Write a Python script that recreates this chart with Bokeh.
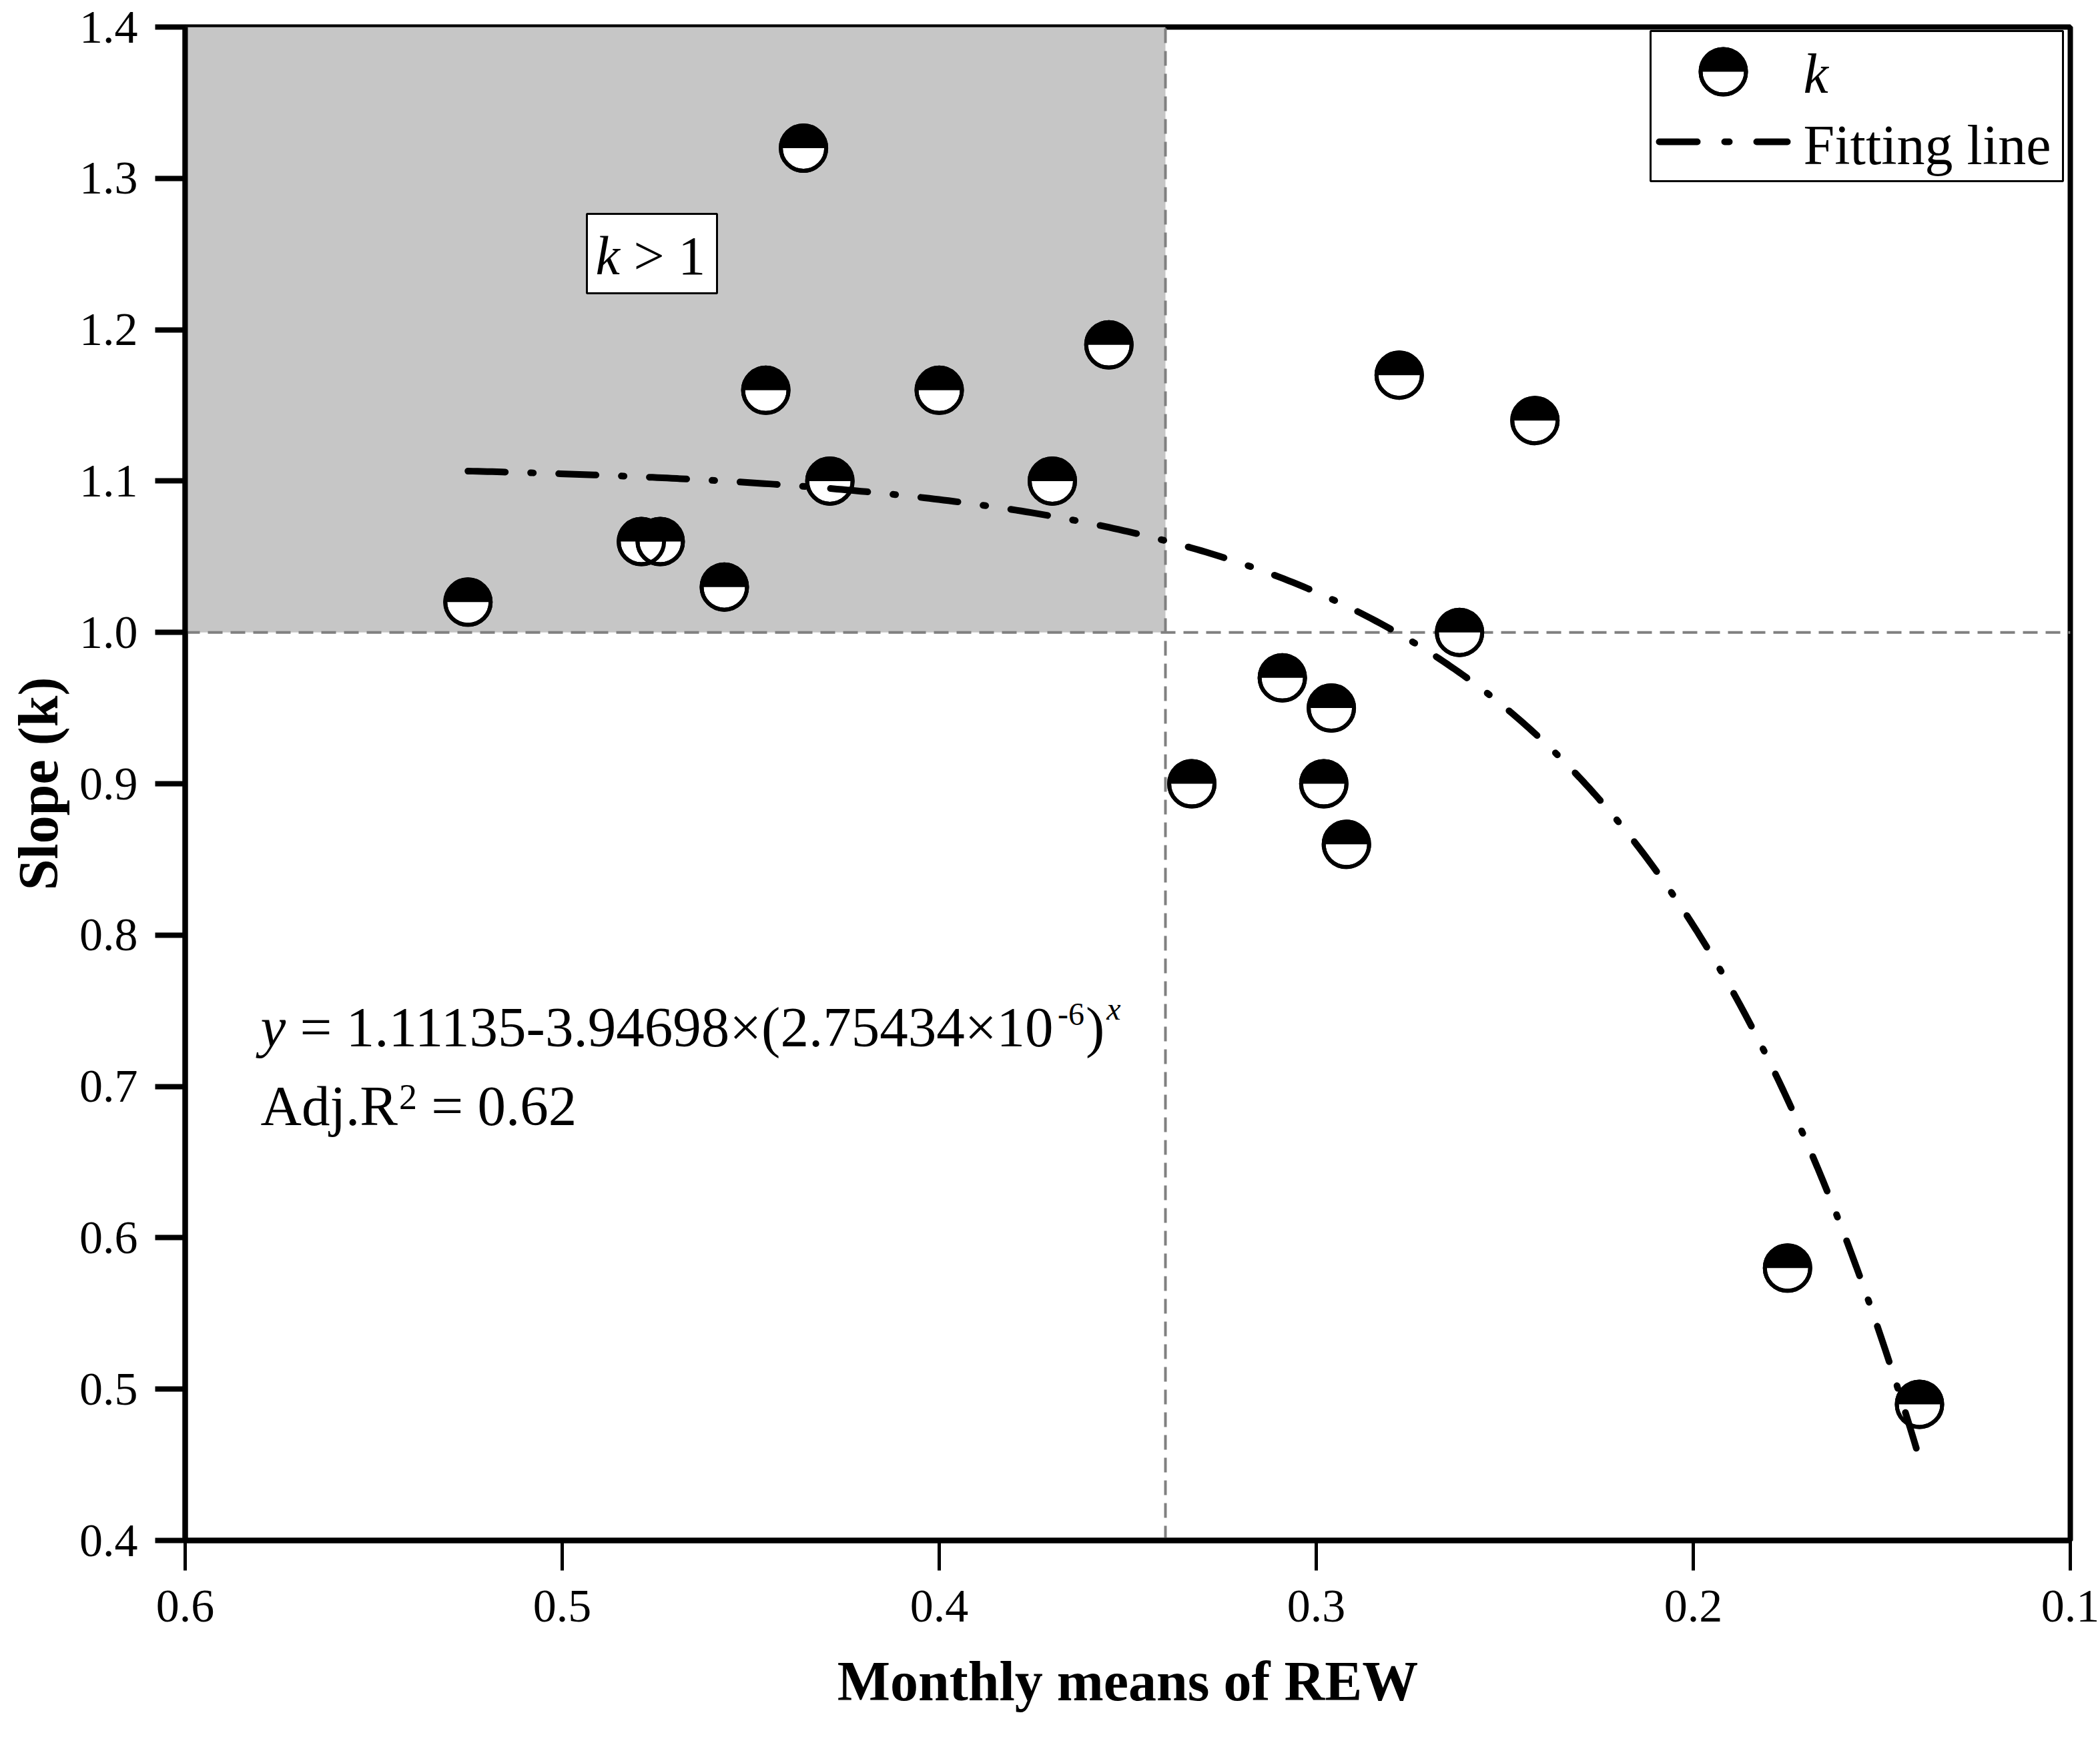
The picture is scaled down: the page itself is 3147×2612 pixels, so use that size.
import numpy as np
from bokeh.plotting import figure
from bokeh.models import Range1d, FixedTicker, PrintfTickFormatter, Label, ColumnDataSource
from bokeh.embed import file_html
from bokeh.resources import INLINE

# ---------------- data ----------------
rew = [0.525, 0.479, 0.474, 0.457, 0.446, 0.436, 0.429, 0.400, 0.370, 0.355,
       0.333, 0.309, 0.298, 0.296, 0.292, 0.278, 0.262, 0.242, 0.175, 0.140]
slope_k = [1.02, 1.06, 1.06, 1.03, 1.16, 1.32, 1.10, 1.16, 1.10, 1.19,
           0.90, 0.97, 0.90, 0.95, 0.86, 1.17, 1.00, 1.14, 0.58, 0.49]

# fitted model shown on the chart: y = A - B * C**x
FIT_A = 1.11135
FIT_B = 3.94698
FIT_C = 2.75434e-6

x_ticks = [0.6, 0.5, 0.4, 0.3, 0.2, 0.1]
y_ticks = [0.4, 0.5, 0.6, 0.7, 0.8, 0.9, 1.0, 1.1, 1.2, 1.3, 1.4]
X_START, X_END = 0.6, 0.1
Y_BOTTOM, Y_TOP = 0.4, 1.4
REW_THRESHOLD = 0.34
K_THRESHOLD = 1.0

eq_main = "= 1.11135-3.94698\u00d7(2.75434\u00d710"
eq_exp = "-6"
r2_text = "= 0.62"

# ---------------- layout ----------------
W, H = 3147, 2612
BL, BR, BT, BB = 277, 45, 40, 304
FW = W - BL - BR
FH = H - BT - BB
FONT = "Liberation Serif"
BASE = 0.30  # baseline correction (em)

def dx(page_x):
    return X_START + (X_END - X_START) * (page_x - BL) / FW

def dy(page_y):
    return Y_TOP - (Y_TOP - Y_BOTTOM) * (page_y - BT) / FH

# Times-like advance widths (em)
REG = {**{d: 0.5 for d in "0123456789"}, ".": 0.25, " ": 0.25, "=": 0.564, "-": 0.333,
       "\u00d7": 0.564, "(": 0.333, ")": 0.333, "A": 0.722, "d": 0.5, "j": 0.278,
       "R": 0.667, ">": 0.564}
ITA = {"y": 0.444, "x": 0.444, "k": 0.444}

def tw(s, size, table=REG):
    return sum(table.get(c, 0.5) for c in s) * size

p = figure(width=W, height=H, output_backend="svg", toolbar_location=None,
           x_range=Range1d(X_START, X_END), y_range=Range1d(Y_BOTTOM, Y_TOP),
           min_border_left=BL, min_border_right=BR, min_border_top=BT, min_border_bottom=BB,
           background_fill_color="white", border_fill_color="white")

def text(x, y, s, size, italic=False, xo=0.0, yo=0.0):
    p.add_layout(Label(x=x, y=y, x_offset=xo, y_offset=yo + BASE * size, text=s,
                       text_font=FONT, text_font_size=f"{size}px",
                       text_font_style="italic" if italic else "normal",
                       text_baseline="alphabetic", text_align="left", text_color="black"))

p.xgrid.visible = False
p.ygrid.visible = False
p.outline_line_color = "black"
p.outline_line_width = 8
p.outline_line_alpha = 1.0

p.xaxis.ticker = FixedTicker(ticks=x_ticks)
p.yaxis.ticker = FixedTicker(ticks=y_ticks)
p.xaxis.formatter = PrintfTickFormatter(format="%.1f")
p.yaxis.formatter = PrintfTickFormatter(format="%.1f")
for ax in (p.xaxis[0], p.yaxis[0]):
    ax.axis_line_width = 8
    ax.axis_line_color = "black"
    ax.major_tick_in = 0
    ax.major_tick_out = 45
    ax.major_tick_line_color = "black"
    ax.minor_tick_line_color = None
    ax.major_label_text_font = FONT
    ax.major_label_text_font_size = "70px"
    ax.major_label_text_color = "black"
    ax.axis_label_text_font = FONT
    ax.axis_label_text_font_size = "84px"
    ax.axis_label_text_font_style = "bold"
    ax.axis_label_text_color = "black"
p.xaxis.major_tick_line_width = 5
p.yaxis.major_tick_line_width = 8
p.xaxis.major_label_standoff = 30
p.yaxis.major_label_standoff = 26
p.xaxis.axis_label_standoff = 40
p.yaxis.axis_label_standoff = 12
p.xaxis.axis_label = "Monthly means of REW"
p.yaxis.axis_label = "Slope (k)"

# shaded region k > 1 and REW > threshold
p.quad(left=[X_START], right=[REW_THRESHOLD], bottom=[K_THRESHOLD], top=[Y_TOP],
       fill_color="#c6c6c6", line_color=None)

# dashed reference lines
p.line([REW_THRESHOLD, REW_THRESHOLD], [Y_BOTTOM, Y_TOP], line_color="#808080",
       line_width=4, line_dash="22 12")
p.line([X_START, X_END], [K_THRESHOLD, K_THRESHOLD], line_color="#808080",
       line_width=4, line_dash="22 12")

# data markers: half-filled circles
src = ColumnDataSource(dict(x=rew, y=slope_k))
MS = 68
p.scatter("x", "y", source=src, marker="circle", size=MS, fill_color="white",
          line_color="black", line_width=6)
p.wedge("x", "y", source=src, radius=MS / 2, radius_units="screen", start_angle=0,
        end_angle=np.pi, fill_color="black", line_color=None)
p.scatter("x", "y", source=src, marker="circle", size=MS, fill_alpha=0,
          line_color="black", line_width=6)

# fitting line from the equation on the chart
xf = np.linspace(max(rew), min(rew), 300)
yf = FIT_A - FIT_B * FIT_C ** xf
p.line(xf, yf, line_color="black", line_width=10, line_dash="56 38 4 38", line_cap="round")

# "k > 1" box
p.quad(left=[dx(879)], right=[dx(1074)], bottom=[dy(439)], top=[dy(320)],
       fill_color="white", line_color="black", line_width=3)
text(dx(892), dy(408), "k", 82, italic=True)
text(dx(892), dy(408), "> 1", 82, xo=tw("k ", 82, {**REG, **ITA}))

# equation
EQ = 85
SUP = 48
ex, ey = dx(390), dy(1564)
off = 0
text(ex, ey, "y", EQ, italic=True, xo=off)
off += tw("y", EQ, ITA) + tw(" ", EQ)
text(ex, ey, eq_main, EQ, xo=off)
off += tw(eq_main, EQ)
text(ex, ey, eq_exp, SUP, xo=off, yo=30)
off += tw(eq_exp, SUP) + 2
text(ex, ey, ")", EQ, xo=off)
off += tw(")", EQ) + 3
text(ex, ey, "x", SUP, italic=True, xo=off, yo=39)

rx, ry = dx(390), dy(1682)
off = 0
text(rx, ry, "Adj.R", EQ, xo=off)
off += tw("Adj.R", EQ) + 2
text(rx, ry, "2", 54, xo=off, yo=22)
off += tw("2", 54) + tw(" ", EQ)
text(rx, ry, r2_text, EQ, xo=off)

# legend (drawn manually to reproduce the half-filled marker)
p.quad(left=[dx(2473)], right=[dx(3091)], bottom=[dy(271)], top=[dy(46)],
       fill_color="white", line_color="black", line_width=3)
lsrc = ColumnDataSource(dict(x=[dx(2582)], y=[dy(107)]))
p.scatter("x", "y", source=lsrc, marker="circle", size=MS, fill_color="white",
          line_color="black", line_width=6)
p.wedge("x", "y", source=lsrc, radius=MS / 2, radius_units="screen", start_angle=0,
        end_angle=np.pi, fill_color="black", line_color=None)
p.scatter("x", "y", source=lsrc, marker="circle", size=MS, fill_alpha=0,
          line_color="black", line_width=6)
text(dx(2702), dy(135), "k", 84, italic=True)
p.line([dx(2486), dx(2678)], [dy(212), dy(212)], line_color="black", line_width=10,
       line_dash="57 41 7 41", line_cap="round")
text(dx(2702), dy(242), "Fitting line", 84)

open("out.html", "w").write(file_html(p, INLINE))
